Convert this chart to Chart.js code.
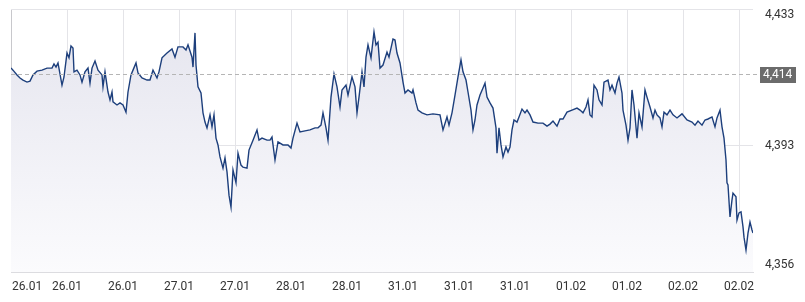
<!DOCTYPE html>
<html>
<head>
<meta charset="utf-8">
<script src="https://cdn.jsdelivr.net/npm/chart.js@4/dist/chart.umd.min.js"></script>
<style>
html,body{margin:0;padding:0;background:#fff;}
#wrap{width:805px;height:302px;position:relative;}
</style>
</head>
<body>
<div id="wrap"><canvas id="c" width="805" height="302"></canvas></div>
<script>
const times = [0,2,6,9,12,16,19,22,26,31,36,41,43,45,47,51,53,56,58,60,62,63,66,69,71,74,77,79,81,84,87,91,92,94,97,99,101,102,106,109,112,115,117,120,122,125,127,131,136,139,142,146,148,151,156,161,164,167,172,175,177,181,182,184,185,187,190,192,194,196,199,201,203,205,207,209,212,214,216,218,220,222,225,227,230,232,236,238,242,246,248,251,256,259,261,264,267,272,277,280,282,286,289,294,299,304,307,310,312,315,317,320,323,326,329,331,335,337,341,344,346,348,351,353,355,357,360,363,365,367,369,372,376,378,382,384,386,389,392,394,397,401,402,405,407,411,416,422,429,432,436,438,441,444,447,450,452,455,457,460,462,464,466,469,472,474,476,479,482,485,486,488,490,492,495,497,499,501,503,506,508,511,514,516,519,522,527,532,536,539,542,546,549,552,556,561,566,569,572,575,577,579,581,583,586,588,591,593,597,599,601,604,606,608,611,612,615,617,619,621,623,626,628,631,634,636,639,642,644,646,649,651,653,656,659,662,666,671,676,681,684,687,691,694,697,701,704,706,709,711,713,715,716,717,719,721,722,725,726,728,730,732,733,735,737,739,741,742];
const prices = [4.4157,4.4151,4.4137,4.4128,4.4122,4.4116,4.4119,4.4137,4.4148,4.4151,4.4157,4.4157,4.4169,4.4160,4.4172,4.4107,4.4131,4.4201,4.4187,4.4222,4.4216,4.4146,4.4151,4.4137,4.4116,4.4146,4.4157,4.4113,4.4157,4.4178,4.4151,4.4137,4.4102,4.4146,4.4087,4.4064,4.4087,4.4058,4.4049,4.4055,4.4049,4.4028,4.4087,4.4137,4.4151,4.4172,4.4143,4.4128,4.4122,4.4122,4.4151,4.4128,4.4146,4.4187,4.4201,4.4213,4.4189,4.4219,4.4219,4.4210,4.4225,4.4189,4.4160,4.4260,4.4166,4.4102,4.4084,4.4026,4.3999,4.3982,4.4020,4.3985,4.4020,4.3952,4.3932,4.3897,4.3864,4.3894,4.3853,4.3785,4.3750,4.3859,4.3821,4.3908,4.3873,4.3867,4.3864,4.3917,4.3946,4.3976,4.3946,4.3952,4.3946,4.3946,4.3955,4.3888,4.3941,4.3932,4.3932,4.3923,4.3952,4.3996,4.3970,4.3973,4.3976,4.3982,4.3982,4.3990,4.4026,4.3982,4.3946,4.4072,4.4140,4.4102,4.4043,4.4093,4.4107,4.4078,4.4131,4.4102,4.4026,4.4072,4.4146,4.4102,4.4189,4.4225,4.4187,4.4263,4.4225,4.4233,4.4157,4.4166,4.4204,4.4189,4.4242,4.4239,4.4201,4.4172,4.4116,4.4084,4.4093,4.4084,4.4093,4.4055,4.4034,4.4026,4.4020,4.4023,4.4020,4.3976,4.4014,4.3990,4.4026,4.4078,4.4131,4.4181,4.4146,4.4122,4.4087,4.4034,4.3976,4.4005,4.4049,4.4078,4.4099,4.4113,4.4072,4.4055,4.4040,4.3982,4.3908,4.3982,4.3932,4.3897,4.3926,4.3911,4.3926,4.3976,4.4005,4.3999,4.4014,4.4037,4.4026,4.4034,4.4020,4.3999,4.3996,4.3996,4.3987,4.3993,4.4002,4.3987,4.4008,4.4008,4.4028,4.4034,4.4040,4.4034,4.4026,4.4043,4.4064,4.4020,4.4014,4.4107,4.4093,4.4064,4.4049,4.4116,4.4122,4.4093,4.4107,4.4084,4.4113,4.4131,4.4084,4.4034,4.3990,4.3946,4.3982,4.4093,4.4049,4.3952,4.4026,4.3985,4.4093,4.4072,4.4043,4.4011,4.4034,4.4020,4.4011,4.3985,4.4028,4.4020,4.4034,4.4020,4.4011,4.4023,4.4005,4.3999,4.3990,4.4002,4.3990,4.4005,4.4008,4.4014,4.3985,4.4011,4.4034,4.3985,4.3952,4.3888,4.3821,4.3815,4.3721,4.3771,4.3791,4.3780,4.3712,4.3733,4.3736,4.3692,4.3662,4.3624,4.3674,4.3706,4.3683,4.3674];
const xTickPos = [0,56,112,168,224,280,336,392,448,504,560,616,672,728];
const xLabels = ['26.01','26.01','26.01','27.01','27.01','28.01','28.01','31.01','31.01','31.01','01.02','01.02','02.02','02.02'];
const yTicks = [4.356, 4.393, 4.433];
const currentValue = 4.414;
const yMin = 4.356, yMax = 4.433, xMax = 742;

const fmt = v => v.toFixed(3).replace('.', ',');
const FONT = '12px Roboto, "Noto Sans", sans-serif';

const overlay = {
  id: 'overlay',
  afterDraw(chart) {
    const c = chart.ctx, a = chart.chartArea;
    const xs = chart.scales.x, ys = chart.scales.y;
    c.save();
    // current value dashed line
    const yc = Math.round(ys.getPixelForValue(currentValue)) + 0.5;
    c.strokeStyle = '#b5b5b5';
    c.lineWidth = 1;
    c.setLineDash([4, 3]);
    c.beginPath(); c.moveTo(a.left, yc); c.lineTo(759, yc); c.stroke();
    c.setLineDash([]);
    // box
    c.fillStyle = '#6b6b6b';
    c.fillRect(760, yc - 7.5, 36, 16);
    c.font = FONT;
    c.textBaseline = 'middle';
    c.textAlign = 'left';
    c.fillStyle = '#ffffff';
    c.fillText(fmt(currentValue), 763, yc + 0.5);
    // y labels
    c.fillStyle = '#333333';
    yTicks.forEach(v => {
      let y = ys.getPixelForValue(v);
      y = Math.min(Math.max(y, a.top + 6), a.bottom - 7);
      c.fillText(fmt(v), 765, y);
    });
    // x labels
    c.textBaseline = 'middle';
    xTickPos.forEach((t, i) => {
      const x = xs.getPixelForValue(t);
      c.textAlign = i === 0 ? 'left' : 'center';
      c.fillText(xLabels[i], i === 0 ? x + 1 : x, 287);
    });
    c.restore();
  }
};

new Chart(document.getElementById('c'), {
  type: 'line',
  data: {
    datasets: [{
      data: times.map((t, i) => ({x: t, y: prices[i]})),
      borderColor: '#1d3f7c',
      borderWidth: 1.4,
      pointRadius: 0,
      tension: 0,
      fill: 'start',
      backgroundColor: (ctx) => {
        const ch = ctx.chart, ar = ch.chartArea;
        if (!ar) return 'rgba(230,230,240,1)';
        const g = ch.ctx.createLinearGradient(0, ar.top, 0, ar.bottom);
        g.addColorStop(0, '#e4e4ee');
        g.addColorStop(1, '#fbfbfd');
        return g;
      }
    }]
  },
  options: {
    responsive: false,
    animation: false,
    events: [],
    layout: {padding: {left: 11, right: 52, top: 9, bottom: 30}},
    plugins: {legend: {display: false}, tooltip: {enabled: false}},
    scales: {
      x: {
        type: 'linear', min: 0, max: xMax,
        afterBuildTicks: s => { s.ticks = xTickPos.map(v => ({value: v})); },
        ticks: {display: false},
        grid: {
          color: (ctx) => ctx.index === 0 ? '#c8c8cc' : '#e4e4e8',
          lineWidth: 1, drawTicks: false
        },
        border: {display: true, color: '#dcdce0'}
      },
      y: {
        position: 'right', min: yMin, max: yMax,
        afterBuildTicks: s => { s.ticks = yTicks.map(v => ({value: v})); },
        ticks: {display: false},
        grid: {color: '#e4e4e8', lineWidth: 1, drawTicks: false},
        border: {display: false}
      }
    }
  },
  plugins: [overlay]
});
</script>
</body>
</html>
